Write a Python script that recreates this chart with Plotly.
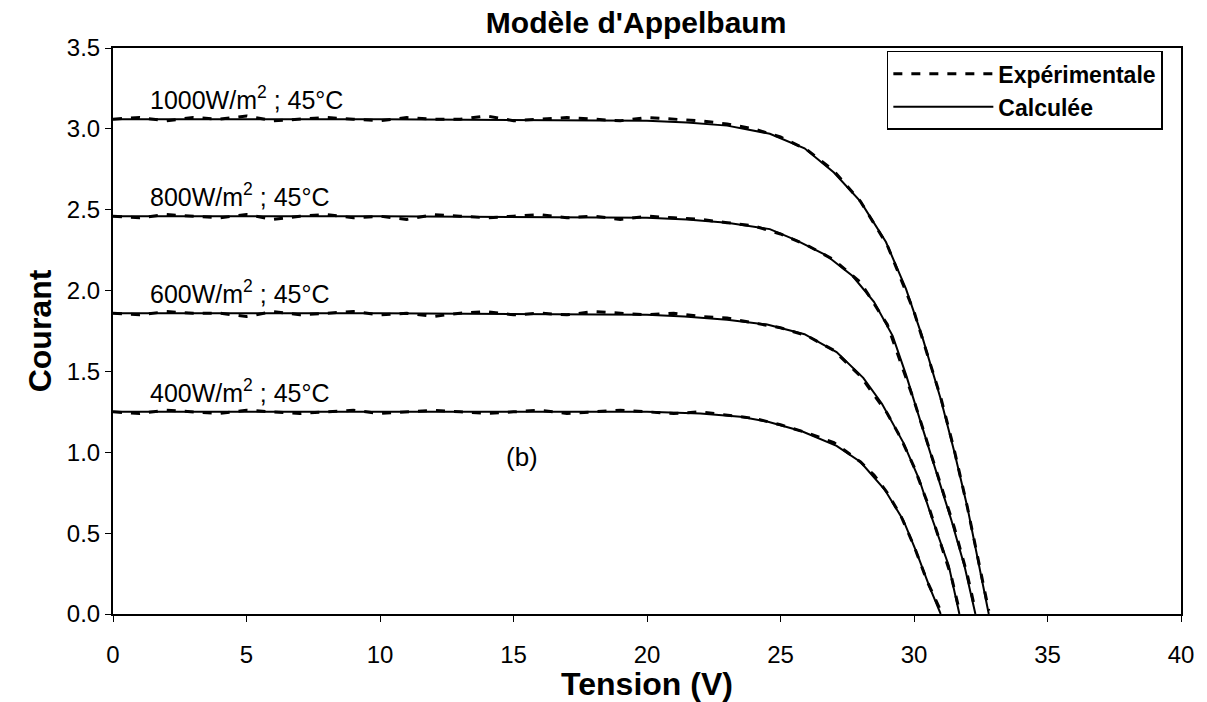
import plotly.graph_objects as go

# ---------------- data ----------------
# Calculated curves (solid)
calc_v_1000 = [0, 10, 20, 21.5, 23, 24.6, 25.9, 27.0, 28.0, 28.95, 29.7, 30.3, 31.0, 31.5, 32.0, 32.4, 32.8]
calc_i_1000 = [3.06, 3.06, 3.05, 3.04, 3.02, 2.97, 2.88, 2.73, 2.55, 2.30, 2.01, 1.72, 1.33, 1.01, 0.66, 0.33, 0.0]

calc_v_800 = [0, 10, 20, 21.5, 23, 24.6, 25.6, 26.7, 27.7, 28.5, 29.2, 29.7, 30.3, 30.9, 31.4, 31.9, 32.3]
calc_i_800 = [2.46, 2.46, 2.45, 2.44, 2.42, 2.38, 2.31, 2.22, 2.09, 1.93, 1.72, 1.48, 1.16, 0.85, 0.58, 0.29, 0.0]

calc_v_600 = [0, 10, 20, 21.4, 23, 24.5, 25.9, 27.1, 28.1, 28.8, 29.6, 30.2, 30.7, 31.3, 31.7]
calc_i_600 = [1.86, 1.86, 1.85, 1.84, 1.82, 1.79, 1.73, 1.62, 1.46, 1.30, 1.06, 0.83, 0.58, 0.30, 0.0]

calc_v_400 = [0, 10, 20, 22, 23.5, 24.5, 25.8, 27.1, 28.0, 28.9, 29.6, 30.1, 30.6, 31.0]
calc_i_400 = [1.25, 1.25, 1.25, 1.24, 1.22, 1.19, 1.13, 1.04, 0.94, 0.77, 0.58, 0.38, 0.16, 0.0]

# Experimental curves (dashed, measured, slightly noisy)
exp_v_1000 = [0, 1, 2, 3, 4, 5, 6, 7, 8, 9, 10, 11, 12, 13, 14, 15, 16, 17, 18, 19, 20, 21, 22, 23,
              24, 25, 26, 27, 28, 29, 30, 31, 31.5, 32, 32.4, 32.8]
exp_i_1000 = [3.06, 3.07, 3.05, 3.07, 3.06, 3.08, 3.05, 3.06, 3.07, 3.06, 3.05, 3.07, 3.06, 3.06, 3.08, 3.05,
              3.06, 3.07, 3.06, 3.05, 3.07, 3.06, 3.05, 3.03,
              3.00, 2.95, 2.87, 2.74, 2.55, 2.28, 1.87, 1.34, 1.02, 0.66, 0.34, 0.02]

exp_v_800 = [0, 1, 2, 3, 4, 5, 6, 7, 8, 9, 10, 11, 12, 13, 14, 15, 16, 17, 18, 19, 20, 21, 22, 23,
             24, 25, 26, 27, 28, 29, 30, 30.5, 31, 31.5, 32, 32.3]
exp_i_800 = [2.46, 2.45, 2.47, 2.46, 2.45, 2.47, 2.44, 2.46, 2.47, 2.45, 2.46, 2.44, 2.47, 2.46, 2.45, 2.46,
             2.47, 2.45, 2.46, 2.44, 2.46, 2.45, 2.44, 2.42,
             2.40, 2.35, 2.28, 2.19, 2.05, 1.79, 1.32, 1.06, 0.80, 0.54, 0.24, 0.02]

exp_v_600 = [0, 1, 2, 3, 4, 5, 6, 7, 8, 9, 10, 11, 12, 13, 14, 15, 16, 17, 18, 19, 20, 21, 22, 23,
             24, 25, 26, 27, 28, 29, 29.5, 30, 30.5, 31, 31.4, 31.7]
exp_i_600 = [1.86, 1.85, 1.87, 1.86, 1.86, 1.84, 1.87, 1.85, 1.86, 1.87, 1.85, 1.86, 1.84, 1.86, 1.87, 1.85,
             1.86, 1.85, 1.87, 1.86, 1.85, 1.86, 1.84, 1.83,
             1.80, 1.77, 1.72, 1.63, 1.47, 1.24, 1.09, 0.91, 0.69, 0.44, 0.23, 0.02]

exp_v_400 = [0, 1, 2, 3, 4, 5, 6, 7, 8, 9, 10, 11, 12, 13, 14, 15, 16, 17, 18, 19, 20, 21, 22, 23,
             24, 25, 26, 27, 28, 28.5, 29, 29.5, 30, 30.5, 31]
exp_i_400 = [1.25, 1.24, 1.26, 1.25, 1.24, 1.26, 1.25, 1.24, 1.25, 1.26, 1.24, 1.25, 1.26, 1.25, 1.24, 1.25,
             1.26, 1.24, 1.25, 1.26, 1.25, 1.24, 1.25, 1.23,
             1.21, 1.17, 1.12, 1.06, 0.94, 0.86, 0.75, 0.61, 0.42, 0.20, 0.02]

curve_labels = ["1000W/m<sup>2</sup> ; 45°C", "800W/m<sup>2</sup> ; 45°C",
                "600W/m<sup>2</sup> ; 45°C", "400W/m<sup>2</sup> ; 45°C"]
label_v = [1.3, 1.3, 1.3, 1.3]
label_i = [3.19, 2.59, 1.99, 1.38]

x_ticks = [0, 5, 10, 15, 20, 25, 30, 35, 40]
y_ticks = [0.0, 0.5, 1.0, 1.5, 2.0, 2.5, 3.0, 3.5]

FONT = "Liberation Sans, Arial, sans-serif"

exp_sets = [(exp_v_1000, exp_i_1000), (exp_v_800, exp_i_800), (exp_v_600, exp_i_600), (exp_v_400, exp_i_400)]
calc_sets = [(calc_v_1000, calc_i_1000), (calc_v_800, calc_i_800), (calc_v_600, calc_i_600), (calc_v_400, calc_i_400)]

fig = go.Figure()

for k, (v, i) in enumerate(exp_sets):
    fig.add_trace(go.Scatter(
        x=v, y=i, mode="lines", name="Expérimentale",
        legendgroup="exp", showlegend=(k == 0),
        line=dict(color="black", width=3, dash="dash"),
    ))
for k, (v, i) in enumerate(calc_sets):
    fig.add_trace(go.Scatter(
        x=v, y=i, mode="lines", name="Calculée",
        legendgroup="calc", showlegend=(k == 0),
        line=dict(color="black", width=2),
    ))

for t, xv, yv in zip(curve_labels, label_v, label_i):
    fig.add_annotation(x=xv, y=yv, text=t, showarrow=False, xanchor="left", yanchor="middle",
                       font=dict(family=FONT, size=25, color="black"))

fig.add_annotation(x=15.3, y=0.97, text="(b)", showarrow=False,
                   font=dict(family=FONT, size=26, color="black"))

fig.update_layout(
    width=1207, height=702,
    margin=dict(l=113, r=26, t=48, b=88),
    paper_bgcolor="white", plot_bgcolor="white",
    title=dict(text="<b>Modèle d'Appelbaum</b>", x=0.527, xanchor="center", y=0.968, yanchor="middle",
               font=dict(family=FONT, size=30, color="black")),
    legend=dict(x=0.983, y=0.995, xanchor="right", yanchor="top",
                bordercolor="black", borderwidth=1.5, bgcolor="white",
                font=dict(family=FONT, size=23, color="black", weight="bold"),
                itemwidth=100, tracegroupgap=0),
    showlegend=True,
)

fig.update_xaxes(
    range=[0, 40], tickvals=x_ticks, ticktext=[str(t) for t in x_ticks],
    showline=True, linecolor="black", linewidth=2, mirror=True,
    ticks="outside", ticklen=6, tickcolor="black", tickwidth=1,
    ticklabelstandoff=12, automargin=False,
    showgrid=False, zeroline=False,
    tickfont=dict(family=FONT, size=24, color="black"),
    title=dict(text="<b>Tension (V)</b>", font=dict(family=FONT, size=32, color="black"), standoff=4),
)
fig.update_yaxes(
    range=[0, 3.5], tickvals=y_ticks, ticktext=[f"{t:.1f}" for t in y_ticks],
    showline=True, linecolor="black", linewidth=2, mirror=True,
    ticks="outside", ticklen=6, tickcolor="black", tickwidth=1,
    automargin=False,
    showgrid=False, zeroline=False,
    tickfont=dict(family=FONT, size=24, color="black"),
    title=dict(text="<b>Courant</b>", font=dict(family=FONT, size=32, color="black"), standoff=6),
)

fig.write_html("out.html")
